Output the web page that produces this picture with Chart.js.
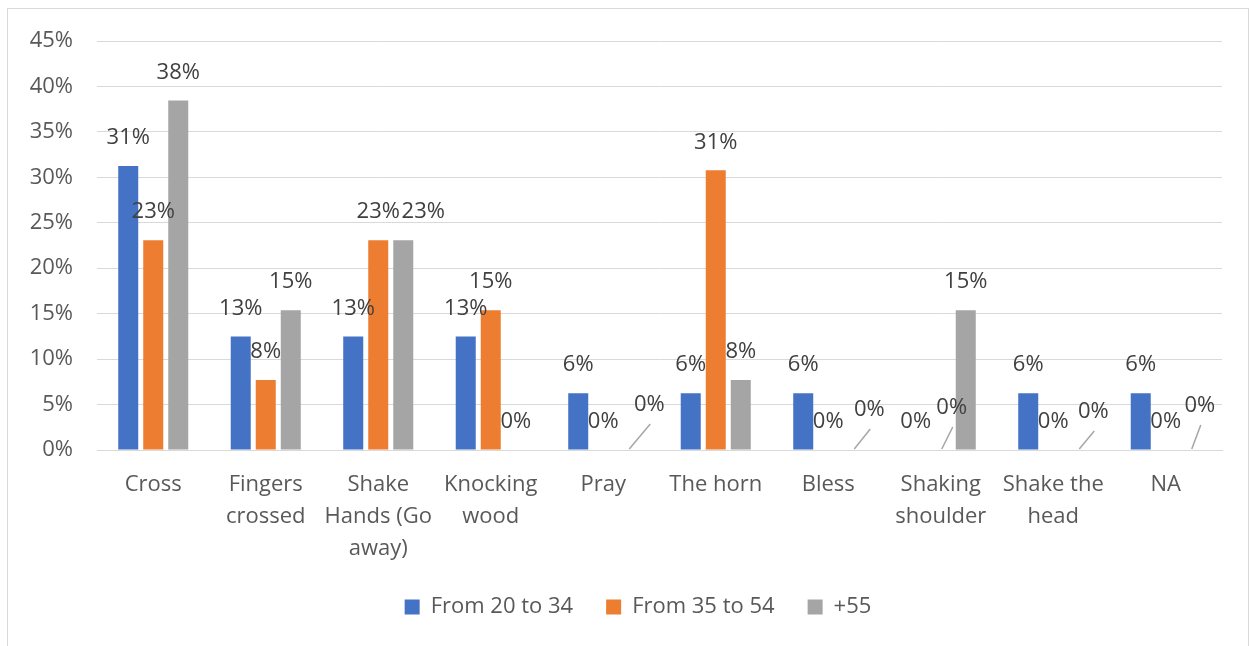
<!DOCTYPE html>
<html>
<head>
<meta charset="utf-8">
<script src="https://cdn.jsdelivr.net/npm/chart.js@4.4.1/dist/chart.umd.min.js"></script>
<style>
  html, body { margin: 0; padding: 0; background: #fff; }
  #wrap { position: relative; width: 1252px; height: 646px; }
</style>
</head>
<body>
<div id="wrap"><canvas id="gestures"></canvas></div>
<script>
// Gestures by age group (share of respondents, %)
const categories = [
    'Cross',
    ['Fingers', 'crossed'],
    ['Shake', 'Hands (Go', 'away)'],
    ['Knocking', 'wood'],
    'Pray',
    'The horn',
    'Bless',
    ['Shaking', 'shoulder'],
    ['Shake the', 'head'],
    'NA'
];
const age20to34 = [31.25, 12.5, 12.5, 12.5, 6.25, 6.25, 6.25, 0, 6.25, 6.25];
const age35to54 = [23.08, 7.69, 23.08, 15.38, 0, 30.77, 0, 0, 0, 0];
const age55plus = [38.46, 15.38, 23.08, 0, 0, 7.69, 0, 15.38, 0, 0];
const yTicks = [0, 5, 10, 15, 20, 25, 30, 35, 40, 45];

const textColor = '#595959';
const labelColor = '#404040';
const gridColor = '#D9D9D9';
const fontFamily = '"Open Sans", "Noto Sans", sans-serif';

// labels nudged off their bar: [datasetIndex, index, dx, dy, leader line]
const movedLabels = [
    [2, 2, 20, 0, false],
    [2, 4, 21, -17, true],
    [2, 6, 16, -12, true],
    [1, 7, 11, -14, true],
    [2, 8, 15, -10, true],
    [2, 9, 9, -16, true]
];

const valueLabels = {
    id: 'valueLabels',
    afterDatasetsDraw(chart) {
        const ctx = chart.ctx;
        ctx.save();
        ctx.font = '22px ' + fontFamily;
        ctx.fillStyle = labelColor;
        ctx.textAlign = 'center';
        ctx.textBaseline = 'middle';
        chart.data.datasets.forEach((ds, di) => {
            chart.getDatasetMeta(di).data.forEach((bar, i) => {
                const moved = movedLabels.find(m => m[0] === di && m[1] === i);
                let x = bar.x;
                let y = bar.y - 28;
                if (moved) {
                    x += moved[2];
                    y += moved[3];
                    if (moved[4]) {
                        ctx.beginPath();
                        ctx.strokeStyle = '#A6A6A6';
                        ctx.lineWidth = 1.5;
                        ctx.moveTo(bar.x + 1, bar.y - 1);
                        ctx.lineTo(x + 1, y + 19);
                        ctx.stroke();
                    }
                }
                ctx.fillText(Math.round(ds.data[i]) + '%', x, y);
            });
        });
        ctx.restore();
    }
};

const frame = {
    id: 'frame',
    beforeDraw(chart) {
        const ctx = chart.ctx;
        ctx.save();
        ctx.strokeStyle = gridColor;
        ctx.lineWidth = 1;
        ctx.strokeRect(7.5, 8.5, 1241, 660);
        ctx.restore();
    }
};

// centre the legend on the whole frame rather than the padded box
const legendShift = {
    id: 'legendShift',
    afterLayout(chart) {
        chart.legend.left += 27;
        chart.legend.right += 27;
    }
};

new Chart(document.getElementById('gestures'), {
    type: 'bar',
    data: {
        labels: categories,
        datasets: [
            { label: 'From 20 to 34', data: age20to34, backgroundColor: '#4472C4' },
            { label: 'From 35 to 54', data: age35to54, backgroundColor: '#ED7D31' },
            { label: '+55', data: age55plus, backgroundColor: '#A5A5A5' }
        ]
    },
    options: {
        responsive: true,
        maintainAspectRatio: false,
        animation: false,
        datasets: {
            bar: { categoryPercentage: 0.667, barPercentage: 0.8 }
        },
        layout: { padding: { left: 0, right: 30, top: 41, bottom: 18 } },
        plugins: {
            legend: {
                position: 'bottom',
                labels: {
                    color: textColor,
                    font: { family: fontFamily, size: 22 },
                    boxWidth: 15,
                    boxHeight: 15,
                    padding: 33
                }
            },
            tooltip: { enabled: false }
        },
        scales: {
            x: {
                grid: { display: false },
                border: { display: true, color: gridColor },
                ticks: {
                    color: textColor,
                    font: { family: fontFamily, size: 22, lineHeight: 1.45 },
                    padding: 11,
                    maxRotation: 0,
                    autoSkip: false
                },
                afterFit(scale) { scale.height = 113; }
            },
            y: {
                min: 0,
                max: 45,
                afterBuildTicks(scale) { scale.ticks = yTicks.map(v => ({ value: v })); },
                grid: { color: gridColor, drawTicks: false },
                border: { display: false },
                ticks: {
                    color: textColor,
                    font: { family: fontFamily, size: 22 },
                    padding: 24,
                    callback: v => v + '%'
                },
                afterFit(scale) { scale.width = 97; }
            }
        }
    },
    plugins: [frame, legendShift, valueLabels]
});
</script>
</body>
</html>
